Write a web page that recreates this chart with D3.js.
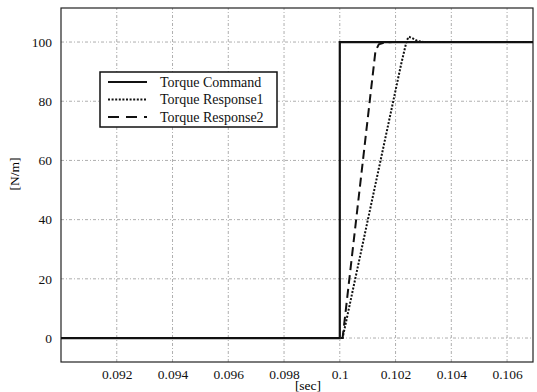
<!DOCTYPE html>
<html>
  <head>
    <title>torque-response</title>
    <style>
      html,
      body {
        padding: 0;
        margin: 0;
        background: #fff;
      }
      svg text {
        font-family: "Liberation Serif", Tinos, "DejaVu Serif", serif !important;
      }
    </style>
  </head>
  <body>
    <svg width="537" height="392"></svg>

    <script src="https://cdn.jsdelivr.net/npm/d3@7"></script>
    <script>
      // axis ticks
      const xTicks = [0.092, 0.094, 0.096, 0.098, 0.1, 0.102, 0.104, 0.106];
      const yTicks = [0, 20, 40, 60, 80, 100];

      // Torque Command (step at 0.1 s)
      const cmdTime = [0.09, 0.1, 0.1, 0.107];
      const cmdValue = [0, 0, 100, 100];

      // Torque Response1 (dotted, slow ramp with small overshoot)
      const resp1Time = [0.09, 0.1001, 0.1022, 0.1024, 0.10248, 0.1026, 0.1028, 0.103, 0.107];
      const resp1Value = [0, 0, 92.5, 100.5, 101.8, 101.3, 100.3, 100, 100];

      // Torque Response2 (dashed, fast ramp)
      const resp2Time = [0.09, 0.1001, 0.10128, 0.1014, 0.1016, 0.1019, 0.107];
      const resp2Value = [0, 0, 97, 99.2, 99.8, 100, 100];

      const legendNames = ['Torque Command', 'Torque Response1', 'Torque Response2'];
      const dashes = [null, '2,1.6', '9,5'];

      const svg = d3.select('svg');
      const margin = { left: 61, top: 8, right: 4, bottom: 30 };
      const W = 537, H = 392;

      const x = d3.scaleLinear().domain([0.09, 0.10693]).range([margin.left, W - margin.right]);
      const y = d3.scaleLinear().domain([-8.1, 111.5]).range([H - margin.bottom, margin.top]);

      const plot = svg.append('g');

      // clip so lines stay inside frame
      svg.append('clipPath').attr('id', 'clip')
        .append('rect')
        .attr('x', x.range()[0]).attr('y', y.range()[1])
        .attr('width', x.range()[1] - x.range()[0])
        .attr('height', y.range()[0] - y.range()[1]);

      // grid
      plot.append('g')
        .selectAll('line')
        .data(xTicks)
        .join('line')
        .attr('x1', (d) => x(d)).attr('x2', (d) => x(d))
        .attr('y1', y.range()[0]).attr('y2', y.range()[1])
        .attr('stroke', '#999').attr('stroke-width', 0.8)
        .attr('stroke-dasharray', '3,2,1,2');

      plot.append('g')
        .selectAll('line')
        .data(yTicks)
        .join('line')
        .attr('x1', x.range()[0]).attr('x2', x.range()[1])
        .attr('y1', (d) => y(d)).attr('y2', (d) => y(d))
        .attr('stroke', '#999').attr('stroke-width', 0.8)
        .attr('stroke-dasharray', '3,2,1,2');

      // axes (labels only, grid drawn above)
      const xAxis = plot.append('g')
        .attr('transform', `translate(0,${y.range()[0]})`)
        .call(d3.axisBottom(x).tickValues(xTicks).tickSize(0).tickPadding(7).tickFormat((d) => String(+d.toFixed(3))));
      const yAxis = plot.append('g')
        .attr('transform', `translate(${x.range()[0]},0)`)
        .call(d3.axisLeft(y).tickValues(yTicks).tickSize(0).tickPadding(9));

      [xAxis, yAxis].forEach((a) => {
        a.select('.domain').remove();
        a.attr('font-family', null);
        a.selectAll('text')
          .attr('font-size', 13.5)
          .attr('fill', '#111');
      });

      // frame
      plot.append('rect')
        .attr('x', x.range()[0]).attr('y', y.range()[1])
        .attr('width', x.range()[1] - x.range()[0])
        .attr('height', y.range()[0] - y.range()[1])
        .attr('fill', 'none').attr('stroke', '#222').attr('stroke-width', 1.2);

      // series
      const series = [
        d3.zip(cmdTime, cmdValue),
        d3.zip(resp1Time, resp1Value),
        d3.zip(resp2Time, resp2Value),
      ];
      const line = d3.line().x((d) => x(d[0])).y((d) => y(d[1]));

      plot.append('g')
        .attr('clip-path', 'url(#clip)')
        .selectAll('path')
        .data(series)
        .join('path')
        .attr('d', line)
        .attr('fill', 'none')
        .attr('stroke', '#111')
        .attr('stroke-width', (d, i) => (i === 0 ? 2.2 : 2))
        .attr('stroke-dasharray', (d, i) => dashes[i]);

      // axis titles
      svg.append('text')
        .attr('x', 308).attr('y', 390)
        .attr('text-anchor', 'middle')
        .attr('font-size', 13.5)
        .text('[sec]');
      svg.append('text')
        .attr('transform', 'translate(19,174) rotate(-90)')
        .attr('text-anchor', 'middle')
        .attr('font-size', 13.5)
        .text('[N/m]');

      // legend
      const lg = svg.append('g');
      lg.append('rect')
        .attr('x', 100).attr('y', 72)
        .attr('width', 177).attr('height', 55)
        .attr('fill', '#fff').attr('stroke', '#111').attr('stroke-width', 1.5);
      const item = lg.selectAll('g.item')
        .data(legendNames)
        .join('g')
        .attr('class', 'item')
        .attr('transform', (d, i) => `translate(0,${82 + i * 17.5})`);
      item.append('line')
        .attr('x1', 108).attr('x2', 147)
        .attr('stroke', '#111')
        .attr('stroke-width', (d, i) => (i === 0 ? 2 : 1.8))
        .attr('stroke-dasharray', (d, i) => (i === 2 ? '11,7' : dashes[i]));
      item.append('text')
        .attr('x', 160).attr('dy', '0.35em')
        .attr('font-size', 14)
        .attr('fill', '#111')
        .text((d) => d);
    </script>
  </body>
</html>
